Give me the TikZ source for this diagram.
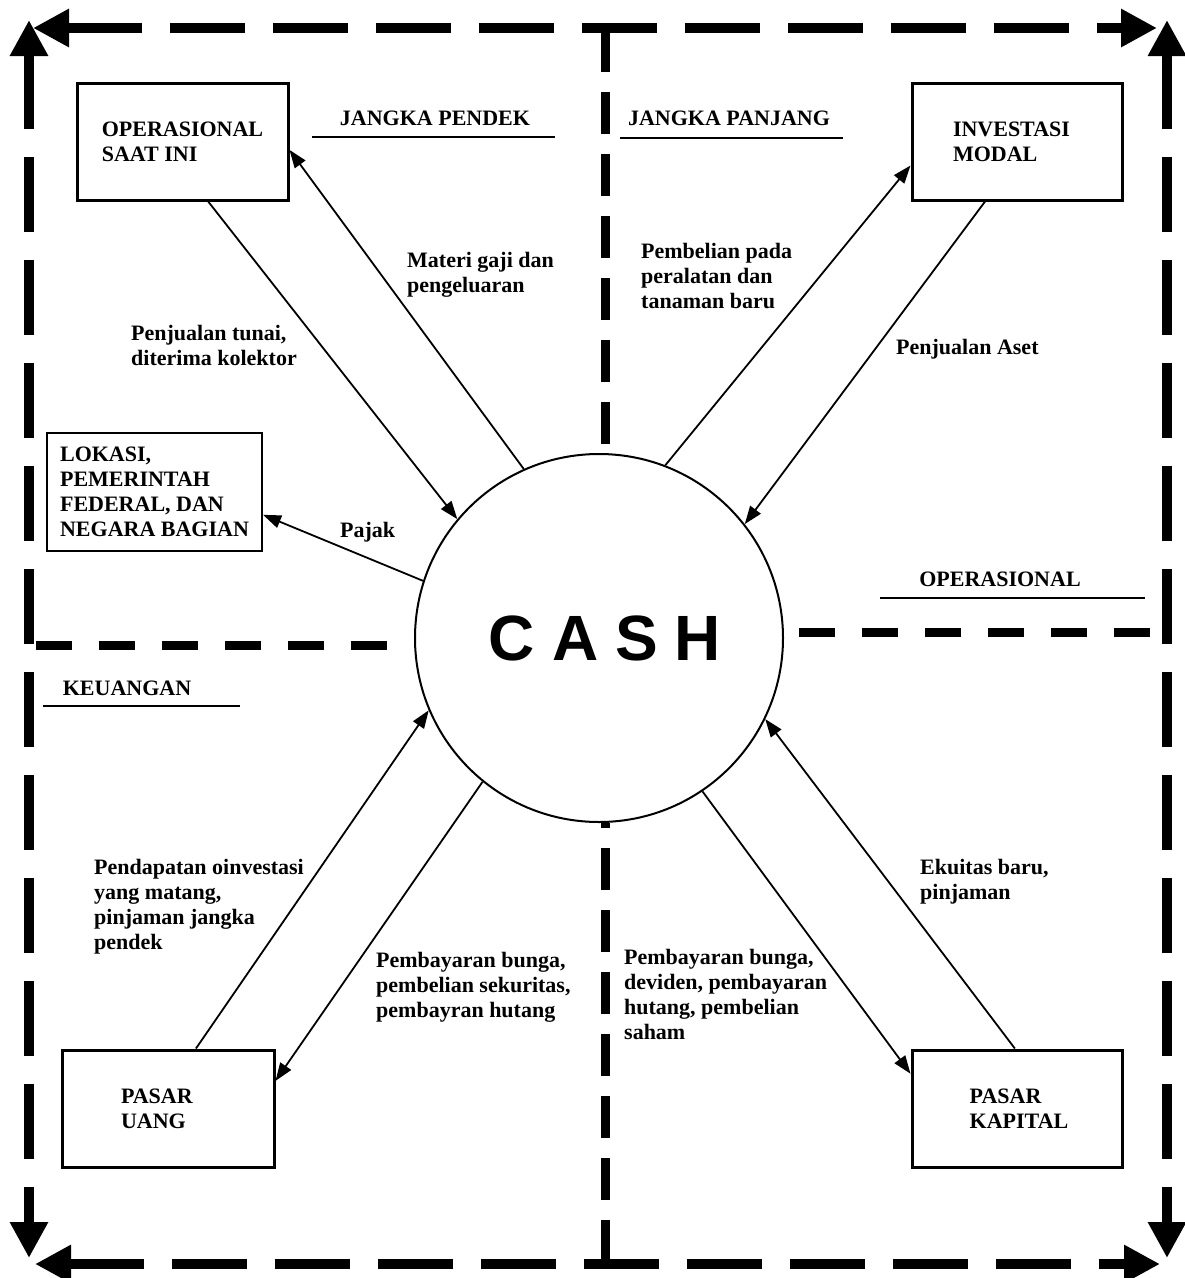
\documentclass[tikz,border=0pt]{standalone}
\usepackage{fontspec}
\setmainfont{Liberation Serif}
\newfontfamily\cashfont{Liberation Sans}
\usetikzlibrary{arrows.meta,calc}

\begin{document}
\begin{tikzpicture}[x=1pt,y=-1pt,
  frame/.style={line width=10pt, dash pattern=on 75pt off 28pt,
    {Triangle[length=36pt,width=36pt]}-{Triangle[length=36pt,width=36pt]}},
  hdivider/.style={line width=9pt, dash pattern=on 36pt off 27pt},
  vdivider/.style={line width=9pt, dash pattern=on 42pt off 20pt},
  box/.style={draw, line width=3pt, rectangle, align=left, inner sep=0pt,
    font=\fontsize{22}{25}\selectfont\bfseries},
  lbl/.style={anchor=west, align=left, inner sep=0pt,
    font=\fontsize{22}{25}\selectfont\bfseries},
  hdr/.style={inner sep=0pt, font=\fontsize{22}{25}\selectfont\bfseries},
  rule/.style={line width=2pt},
  flow/.style={line width=1.8pt, -{Triangle[length=18pt,width=13pt]}},
]
% page
\fill[white] (0,0) rectangle (1185,1278);
\useasboundingbox (0,0) rectangle (1185,1278);

% central cash pool
\node[draw, circle, line width=2pt, minimum size=368pt, inner sep=0pt,
  font=\cashfont\fontsize{64}{64}\selectfont\bfseries] (cash) at (599,638)
  {\hspace*{12pt}C\hspace{17pt}A\hspace{17pt}S\hspace{17pt}H};

% outer frame
\coordinate (ftl) at (33,28);   \coordinate (ftr) at (1157,28);
\coordinate (flt) at (29,20);   \coordinate (flb) at (29,1258);
\coordinate (frt) at (1167,20); \coordinate (frb) at (1167,1258);
\coordinate (fbl) at (35,1264); \coordinate (fbr) at (1160,1264);
\draw[frame] (ftl) -- (ftr);
\draw[frame] (flt) -- (flb);
\draw[frame] (frt) -- (frb);
\draw[frame] (fbl) -- (fbr);

% quadrant dividers
\coordinate (vtop) at (605,30);
\coordinate (vbot) at (605,1262);
\coordinate (hleft) at (36,645);
\coordinate (hright) at (1150,632);
\draw[vdivider] (vtop) -- (vtop |- cash.north);
\draw[vdivider] (vbot) -- (vbot |- cash.south);
\draw[hdivider] (hleft) -- (hleft -| cash.west);
\draw[hdivider] (hright) -- (hright -| cash.east);

% quadrant headings
\node[hdr] (jpd) at (435,118) {JANGKA PENDEK};
\node[hdr] (jpj) at (729,118) {JANGKA PANJANG};
\node[hdr] (opr) at (1000,579) {OPERASIONAL};
\node[hdr] (keu) at (127,688) {KEUANGAN};
\draw[rule] (312,137) -- (555,137);
\draw[rule] (620,138) -- (843,138);
\draw[rule] (880,598) -- (1145,598);
\draw[rule] (43,706) -- (240,706);

% partners
\node[box, minimum width=211pt, minimum height=117pt] (ops) at (182.5,141.5) {OPERASIONAL\\SAAT INI};
\node[box, minimum width=210pt, minimum height=117pt, text width=128pt, inner xsep=41pt] (inv) at (1017,141.5) {INVESTASI\\MODAL};
\node[box, line width=2pt, minimum width=215pt, minimum height=118pt] (lok) at (154.5,492) {LOKASI,\\PEMERINTAH\\FEDERAL, DAN\\NEGARA BAGIAN};
\node[box, minimum width=212pt, minimum height=117pt, text width=94pt, inner xsep=59pt] (pu) at (168,1108.5) {PASAR\\UANG};
\node[box, minimum width=210pt, minimum height=117pt] (pk) at (1017,1108.5) {\hspace*{4pt}PASAR\\\hspace*{4pt}KAPITAL};

% flows
\draw[flow] ($(ops.south west)!0.62!(ops.south east)$) -- (cash.140);
\draw[flow] (cash.114) -- ($(ops.north east)!0.57!(ops.south east)$);
\draw[flow] (cash.69) -- ($(inv.north west)!0.70!(inv.south west)$);
\draw[flow] ($(inv.south west)!0.35!(inv.south east)$) -- (cash.38);
\draw[flow] (cash.162) -- ($(lok.north east)!0.69!(lok.south east)$);
\draw[flow] ($(pu.north west)!0.63!(pu.north east)$) -- (cash.203);
\draw[flow] (cash.231) -- ($(pu.north east)!0.27!(pu.south east)$);
\draw[flow] (cash.304) -- ($(pk.north west)!0.21!(pk.south west)$);
\draw[flow] ($(pk.north west)!0.49!(pk.north east)$) -- (cash.334);

% flow labels
\node[lbl] (l1) at (131,345) {Penjualan tunai,\\diterima kolektor};
\node[lbl] (l2) at (407,275) {Materi gaji dan\\pengeluaran};
\node[lbl] (l3) at (641,276) {Pembelian pada\\peralatan dan\\tanaman baru};
\node[lbl] (l4) at (896,349) {Penjualan Aset};
\node[lbl] (l5) at (340,532) {Pajak};
\node[lbl] (l6) at (94,907) {Pendapatan oinvestasi\\yang matang,\\pinjaman jangka\\pendek};
\node[lbl] (l7) at (376,987) {Pembayaran bunga,\\pembelian sekuritas,\\pembayran hutang};
\node[lbl] (l8) at (624,994) {Pembayaran bunga,\\deviden, pembayaran\\hutang, pembelian\\saham};
\node[lbl] (l9) at (920,882) {Ekuitas baru,\\pinjaman};
\end{tikzpicture}
\end{document}
